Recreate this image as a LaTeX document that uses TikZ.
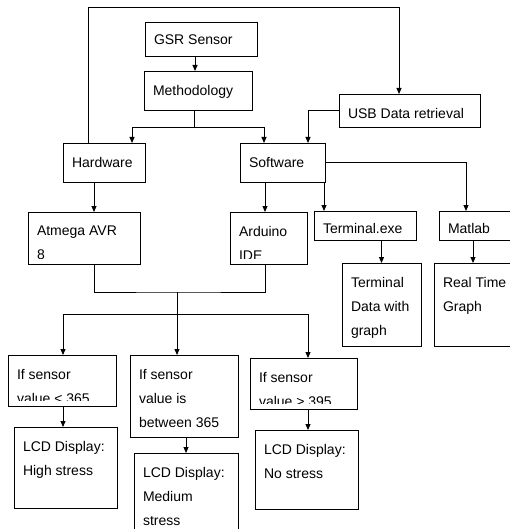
\documentclass[tikz,border=0pt]{standalone}
\usepackage{fontspec}
\setmainfont{Liberation Sans}
\usetikzlibrary{arrows.meta}
\begin{document}
\begin{tikzpicture}[x=1pt,y=1pt,line width=0.9pt,>={Triangle[length=6pt,width=5pt]},
    tdrop/.store in=\tdrop, tdrop=14pt,
    blk/.style={draw, rectangle, anchor=north west, inner sep=0pt, outer sep=0pt,
        path picture={
            \clip ([shift={(1pt,6pt)}]path picture bounding box.south west) rectangle (path picture bounding box.north east);
            \node[draw=none, anchor=north west, inner sep=0pt, minimum width=0pt, minimum height=0pt,
                align=left, font={\fontsize{14pt}{24pt}\selectfont}]
                at ([shift={(9pt,-\tdrop)}]path picture bounding box.north west) {#1};}}]
        \useasboundingbox (0,0) rectangle (510,-529);
        \clip (0,0) rectangle (510,-529);

        \node (gsr) [blk={GSR Sensor}, tdrop=13pt, minimum width=112pt, minimum height=34pt] at (145,-22) {};
        \node (meth) [blk={Methodology}, minimum width=108pt, minimum height=39pt] at (144,-71) {};
        \node (usb) [blk={USB Data retrieval}, minimum width=141pt, minimum height=33pt] at (339,-94) {};
        \node (hw) [blk={Hardware}, minimum width=82pt, minimum height=39pt] at (63,-143) {};
        \node (sw) [blk={Software}, minimum width=85pt, minimum height=39pt] at (240,-143) {};
        \node (atm) [blk={Atmega AVR\\8}, minimum width=112pt, minimum height=52pt] at (28,-212) {};
        \node (ard) [blk={Arduino\\IDE}, minimum width=77pt, minimum height=52pt] at (230,-212) {};
        \node (term) [blk={Terminal.exe}, tdrop=12pt, minimum width=102pt, minimum height=29pt] at (314,-211) {};
        \node (mat) [blk={Matlab}, tdrop=12pt, minimum width=90pt, minimum height=29pt] at (439,-211) {};
        \node (tdat) [blk={Terminal\\Data with\\graph}, minimum width=79pt, minimum height=83pt] at (342,-263) {};
        \node (rt) [blk={Real Time\\Graph}, minimum width=90pt, minimum height=83pt] at (434,-263) {};
        \node (low) [blk={If sensor\\value < 365}, minimum width=108pt, minimum height=51pt] at (8,-355) {};
        \node (mid) [blk={If sensor\\value is\\between 365}, minimum width=108pt, minimum height=82pt] at (130,-355) {};
        \node (high) [blk={If sensor\\value > 395}, minimum width=107pt, minimum height=51pt] at (250,-358) {};
        \node (lcdhi) [blk={LCD Display:\\High stress}, minimum width=103pt, minimum height=81pt] at (14,-427) {};
        \node (lcdmed) [blk={LCD Display:\\Medium\\stress}, minimum width=104pt, minimum height=80pt] at (134,-453) {};
        \node (lcdno) [blk={LCD Display:\\No stress}, minimum width=103pt, minimum height=79pt] at (255,-430) {};

        \draw[->] ([xshift=25pt]hw.north west) -- ++(0,136) -| ([xshift=60pt]usb.north west);
        \draw[->] ([xshift=-6pt]gsr.south) -- ([xshift=-6pt]gsr.south |- meth.north);
        \draw ([xshift=-4pt]meth.south) -- ++(0,-17) coordinate (split);
        \draw[->] (split) -| ([xshift=69pt]hw.north west);
        \draw[->] (split) -| ([xshift=24pt]sw.north west);
        \draw[->] (usb.west) -| ([xshift=68pt]sw.north west);
        \draw[->] (sw.east) -| ([xshift=27pt]mat.north west);

        \draw[->] ([xshift=31pt]hw.south west) -- ([xshift=31pt]hw.south west |- atm.north);
        \draw[->] ([xshift=25pt]sw.south west) -- ([xshift=25pt]sw.south west |- ard.north);
        \draw[->] ([xshift=-1pt]sw.south east) -- ([xshift=-1pt]sw.south east |- term.north);
        \draw[->] (term.south -| tdat.north) -- (tdat.north);
        \draw[->] ([xshift=34pt]mat.south west) -- ([xshift=34pt]mat.south west |- rt.north);

        \coordinate (join) at (177,-292);
        \coordinate (fork) at (177,-314);
        \draw ([xshift=66pt]atm.south west) |- (join) -| ([xshift=35pt]ard.south west);
        \draw[->] (join) -- ([xshift=47pt]mid.north west);
        \draw[->] (fork) -| ([xshift=55pt]low.north west);
        \draw[->] (fork) -| ([xshift=58pt]high.north west);

        \draw[->] ([xshift=55pt]low.south west) -- ([xshift=55pt]low.south west |- lcdhi.north);
        \draw[->] ([xshift=56pt]mid.south west) -- ([xshift=56pt]mid.south west |- lcdmed.north);
        \draw[->] ([xshift=58pt]high.south west) -- ([xshift=58pt]high.south west |- lcdno.north);
    \end{tikzpicture}
\end{document}
